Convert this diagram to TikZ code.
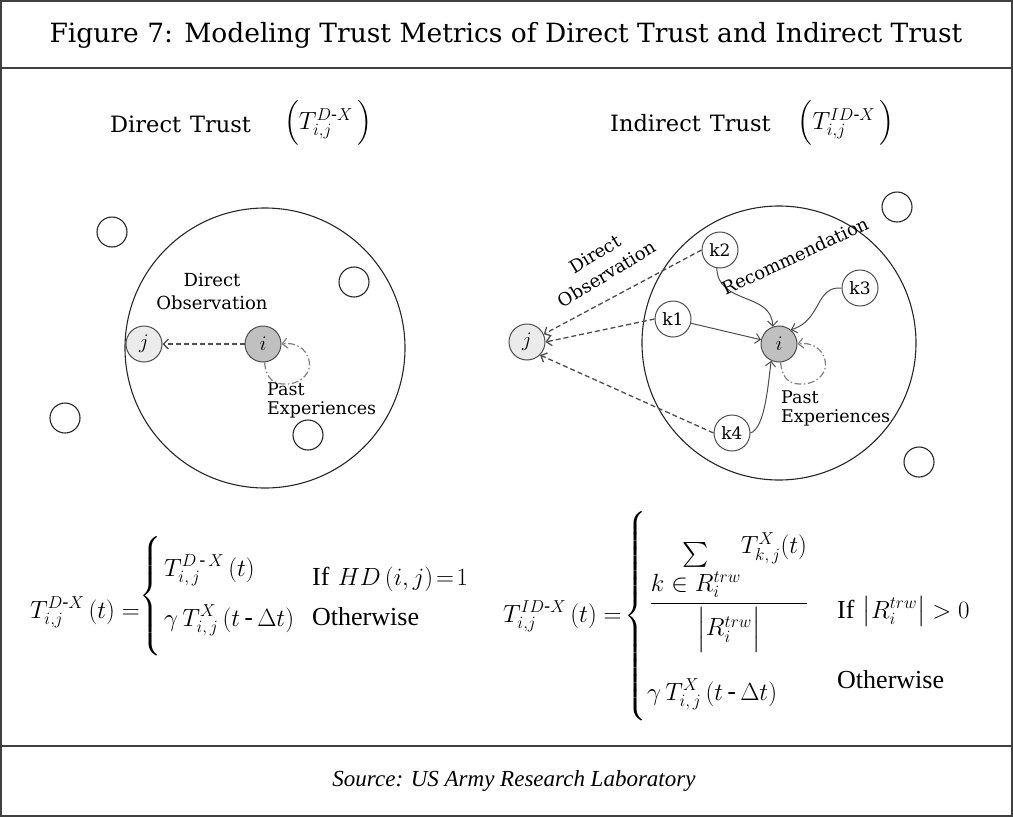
\documentclass[tikz,border=0pt]{standalone}
\usepackage{amsmath}
\usepackage{fontspec}
\setmainfont{DejaVu Serif}
\newfontfamily\srcfont{Liberation Serif}
\usetikzlibrary{arrows.meta}
\definecolor{edge}{HTML}{4D4D4D}
\definecolor{ifill}{HTML}{C0C0C0}
\definecolor{jfill}{HTML}{EBEBEB}
\definecolor{framec}{HTML}{404040}
\begin{document}
\begin{tikzpicture}[x=1pt,y=-1pt,
 outerline/.style={draw=framec,line width=1.6pt},
 nd/.style={circle,draw=edge,line width=1pt,minimum size=36pt,inner sep=0pt,font=\fontsize{17}{17}\selectfont},
 emp/.style={circle,draw=black!85,line width=1.1pt,minimum size=30pt,inner sep=0pt},
 bigc/.style={circle,draw=black!85,line width=1.1pt,inner sep=0pt},
 arrowtip/.style={-{Straight Barb[length=5pt,width=10pt]}},
 dsh/.style={arrowtip,draw=edge,line width=1.3pt,dash pattern=on 5pt off 3pt},
 sol/.style={arrowtip,draw=edge,line width=1pt},
 lp/.style={arrowtip,draw=black!50,line width=1.2pt,dash pattern=on 7pt off 2.5pt on 1.5pt off 2.5pt},
 lbl/.style={inner sep=0pt,font=\fontsize{18}{21}\selectfont},
 pelbl/.style={inner sep=0pt,align=left,anchor=north west,font=\fontsize{17.5}{19}\selectfont},
 fml/.style={inner sep=0pt,font=\fontsize{26}{30}\selectfont},
 sub/.style={inner sep=0pt,font=\fontsize{22.5}{26}\selectfont},
 subf/.style={inner sep=0pt,font=\fontsize{25}{30}\selectfont},
 ijlab/.style={font=\fontsize{20}{20}\selectfont}]
\useasboundingbox (0,0) rectangle (1013,817);
% frame
\draw[outerline] (1,1) rectangle (1012,816);
\draw[outerline] (1,68) -- (1012,68);
\draw[outerline] (1,746) -- (1012,746);
% title
\node[inner sep=0pt,font=\fontsize{26.5}{30}\selectfont] (title) at (506,35) {Figure 7: Modeling Trust Metrics of Direct Trust and Indirect Trust};
% subtitles
\node[sub,anchor=base west] (dt) at (110,132) {Direct\hspace{9pt}Trust};
\node[subf] (dtf) at (328,123) {$\Big(T_{i,j}^{D\text{-}X}\,\Big)$};
\node[sub,anchor=base west] (it) at (610,131) {Indirect\hspace{9pt}Trust};
\node[subf] (itf) at (846,123) {$\Big(T_{i,j}^{ID\text{-}X}\,\Big)$};

% ---------- left diagram ----------
\node[bigc,minimum size=280pt] (L) at (265,348) {};
\node[emp] (e1) at (112,232) {};
\node[emp] (e2) at (354,282) {};
\node[emp] (e3) at (65,418) {};
\node[emp] (e4) at (308,435) {};
\node[nd,fill=jfill,ijlab] (j1) at (144,344) {$j$};
\node[nd,fill=ifill,ijlab] (i1) at (263,344) {$i$};
\draw[dsh] (i1) -- (j1);
\draw[lp] (i1.-85) .. controls (266,380) and (275,385) .. (288,384)
  .. controls (302,383) and (312,372) .. (309,360)
  .. controls (306,348) and (295,342) .. (i1.east);
\node[lbl,align=center] (do1) at (212,292) {Direct\\[2pt]Observation};
\node[pelbl] (pe1) at (267,383) {Past\\Experiences};

% ---------- right diagram ----------
\node[bigc,minimum size=274pt] (R) at (779,343) {};
\node[emp] (e5) at (897,207) {};
\node[emp] (e6) at (919,462) {};
\node[nd,fill=jfill,ijlab] (j2) at (527,342) {$j$};
\node[nd,fill=ifill,ijlab] (i2) at (779,344) {$i$};
\node[nd] (k1) at (673,319) {k1};
\node[nd] (k2) at (720,250) {k2};
\node[nd] (k3) at (860,288) {k3};
\node[nd] (k4) at (732,433) {k4};
\draw[dsh] (k2.west) -- (j2.25);
\draw[dsh] (k1.west) -- (j2.east);
\draw[dsh] (k4.west) -- (j2.-45);
\draw[sol] (k1) -- (i2);
\draw[sol] (k2.260) .. controls (718,305) and (772,292) .. (i2.110);
\draw[sol] (k3.west) .. controls (815,286) and (822,320) .. (i2.50);
\draw[sol] (k4.east) .. controls (765,428) and (768,385) .. (i2.245);
\draw[lp] (i2.-85) .. controls (782,380) and (791,385) .. (804,384)
  .. controls (818,383) and (828,372) .. (825,360)
  .. controls (822,348) and (811,342) .. (i2.east);
\node[lbl,align=center,rotate=31] (do2) at (601,264) {Direct\\[2pt]Observation};
\node[lbl,rotate=25] (rec) at (795,256) {Recommendation};
\node[pelbl] (pe2) at (781,391) {Past\\Experiences};

% ---------- left formula ----------
\node[fml,anchor=base west] (lhs1) at (30,618) {$T_{i,j}^{D\text{-}X}\left(t\right)=$};
\node[fml] (br1) at (151,596) {$\left\{\vrule height 50pt depth 50pt width 0pt\right.$};
\node[fml,anchor=base west] (r11) at (164,576) {$T_{i,\,j}^{D\,\text{-}\,X}\left(t\right)$};
\node[fml,anchor=base west] (c11) at (312,585) {{\srcfont If}\ $HD\left(i,j\right)\!=\!1$};
\node[fml,anchor=base west] (r12) at (164,626) {$\gamma\,T_{i,\,j}^{X}\left(t\,\text{-}\,\Delta t\right)$};
\node[fml,anchor=base west] (c12) at (312,625) {\srcfont Otherwise};

% ---------- right formula ----------
\node[fml,anchor=base west] (lhs2) at (503,622) {$T_{i,j}^{ID\text{-}X}\left(t\right)=$};
\node[fml] (br2) at (636,616) {$\left\{\vrule height 94pt depth 94pt width 0pt\right.$};
\node[fml,anchor=base] (fr) at (729,610) {$\dfrac{{\textstyle\sum\limits_{\textstyle k\in R_i^{trw}}}\raisebox{8pt}{$T^{X}_{k,\,j}(t)$}}{\Big|R_i^{trw}\Big|}$};
\node[fml,anchor=base west] (c21) at (837,618) {{\srcfont If}\ $\big|R_i^{trw}\big|>0$};
\node[fml,anchor=base west] (r22) at (647,700) {$\gamma\,T_{i,\,j}^{X}\left(t\,\text{-}\,\Delta t\right)$};
\node[fml,anchor=base west] (c22) at (837,688) {\srcfont Otherwise};

% source
\node[inner sep=0pt,font=\srcfont\itshape\fontsize{23}{27}\selectfont] (src) at (514,781) {Source: US Army Research Laboratory};
\end{tikzpicture}
\end{document}
